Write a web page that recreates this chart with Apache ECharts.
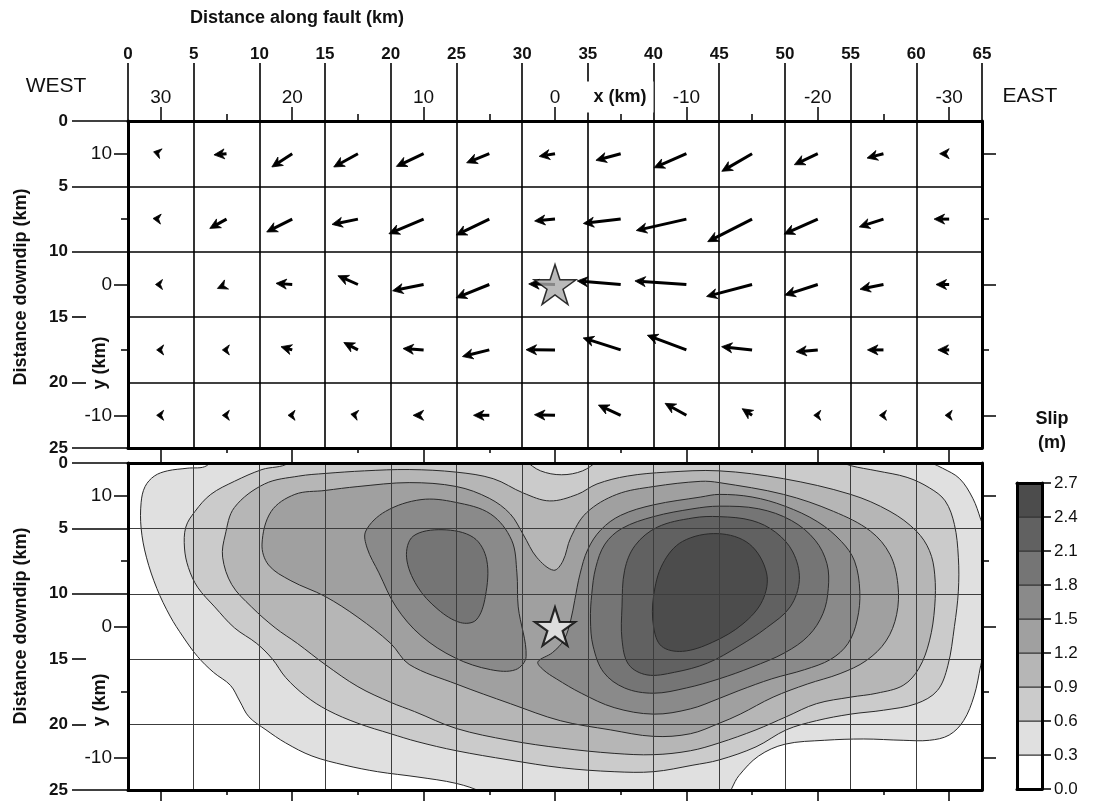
<!DOCTYPE html>
<html><head><meta charset="utf-8">
<script src="https://cdn.jsdelivr.net/npm/echarts@6/dist/echarts.min.js"></script>
<style>html,body{margin:0;padding:0;background:#fff}#c{width:1097px;height:801px}</style>
</head><body><div id="c"></div>
<script>
// ---------------- data ----------------
const colCenters = [2.5,7.5,12.5,17.5,22.5,27.5,32.5,37.5,42.5,47.5,52.5,57.5,62.5];
const rowCenters = [2.5,7.5,12.5,17.5,22.5];
// slip components (m): strike (negative = toward WEST), dip (positive = downdip)
const slipStrike = [
 [-0.38,-0.66,-1.07,-1.27,-1.43,-1.19,-0.83,-1.30,-1.70,-1.59,-1.23,-0.86,-0.50],
 [-0.41,-0.88,-1.34,-1.36,-1.82,-1.74,-1.07,-1.96,-2.63,-2.33,-1.77,-1.27,-0.79],
 [-0.28,-0.48,-0.85,-1.05,-1.63,-1.74,-1.38,-2.28,-2.70,-2.39,-1.73,-1.23,-0.69],
 [-0.22,-0.22,-0.59,-0.74,-1.08,-1.41,-1.52,-1.97,-2.05,-1.60,-1.14,-0.84,-0.59],
 [-0.22,-0.22,-0.22,-0.37,-0.55,-0.83,-1.08,-1.17,-1.12,-0.52,-0.21,-0.21,-0.21]
];
const slipDip = [
 [-0.10,0.06,0.70,0.70,0.67,0.48,0.14,0.35,0.74,0.93,0.58,0.23,0],
 [-0.03,0.49,0.68,0.28,0.77,0.84,0.10,0.23,0.60,1.19,0.79,0.41,0],
 [0,0.21,-0.06,-0.46,0.33,0.70,-0.03,-0.19,-0.19,0.63,0.56,0.25,0],
 [0,0,-0.17,-0.39,-0.07,0.35,-0.01,-0.63,-0.77,-0.17,0.10,0,0],
 [0,0,0,-0.06,0,0,-0.03,-0.54,-0.63,-0.35,0,0,0]
];
const hypocenter = [32.5, 12.5];
const depthLongTicks = [0,5,10,25];
const depthShortTicks = [15,20];
const localXMajor = [30,20,10,0,-10,-20,-30];
const localXMinor = [25,15,5,-5,-15,-25];
const localYMajor = [10,0,-10];
const localYMinor = [5,-5];
const slipLevels = [0,0.3,0.6,0.9,1.2,1.5,1.8,2.1,2.4,2.7];
// slip contours (distance along fault km, depth km)
const contour03 = [[7.5,-1.5],[6.0,0.2],[4.5,0.4],[3.0,0.6],[2.0,1.0],[1.3,1.8],[1.0,3.0],[1.0,5.0],[1.4,7.2],[2.2,9.6],[3.2,11.7],[4.2,13.3],[5.3,14.8],[6.5,16.0],[7.8,17.0],[8.5,18.2],[9.2,19.4],[10.5,20.4],[12.0,21.4],[14.0,22.4],[16.5,23.1],[19.0,23.6],[22.0,24.0],[25.0,24.5],[27.0,25.2],[29.0,26.5],[40.0,26.5],[45.3,25.6],[46.5,23.9],[48.0,22.4],[50.0,21.5],[53.0,21.2],[56.0,21.1],[59.0,21.2],[61.0,21.2],[62.5,20.8],[63.6,19.7],[64.4,17.8],[64.9,15.5],[65.4,13.0],[65.4,6.0],[64.9,4.3],[64.3,2.7],[63.3,1.2],[62.0,0.4],[60.5,-0.3],[58.0,-1.5]];
const contour06 = [[12.8,-1.5],[12.2,0.0],[10.2,0.5],[8.1,1.4],[6.3,2.4],[5.1,3.7],[4.4,4.9],[4.3,6.5],[4.6,8.0],[5.3,9.5],[6.6,11.0],[8.1,12.6],[9.8,13.8],[11.0,15.0],[12.0,16.4],[13.5,17.8],[15.2,18.9],[17.5,19.9],[20.0,20.7],[22.0,21.3],[25.0,22.0],[29.0,22.7],[33.0,23.3],[37.0,23.6],[40.0,23.6],[43.0,23.1],[45.0,22.7],[47.8,21.7],[50.1,20.4],[52.4,19.7],[55.0,19.2],[57.5,18.9],[60.0,18.4],[61.6,17.4],[62.4,15.5],[62.9,12.5],[63.2,9.8],[63.2,7.2],[62.9,4.7],[62.2,2.9],[61.0,1.9],[59.3,1.1],[57.0,0.6],[55.0,0.2],[53.7,-0.3],[50.0,-1.5],[37.5,-1.5],[35.8,-0.2],[34.6,0.6],[33.0,0.9],[31.4,0.6],[30.2,-0.2],[28.5,-1.5]];
const contour09 = [[8.1,3.4],[10.4,1.6],[13.0,1.0],[15.0,0.8],[18.0,0.6],[21.4,0.5],[25.0,0.7],[27.8,1.2],[30.1,2.3],[32.1,2.9],[34.2,2.4],[35.7,1.6],[38.0,1.0],[41.0,0.7],[45.0,0.6],[49.9,1.2],[55.0,2.4],[58.0,3.7],[60.0,5.2],[61.0,6.7],[61.4,8.5],[61.4,11.0],[61.0,13.6],[60.2,15.7],[59.0,17.0],[57.0,17.6],[55.0,17.9],[52.4,18.4],[50.1,19.4],[47.8,20.4],[45.0,21.4],[42.8,22.0],[40.0,22.3],[37.0,22.2],[33.0,21.8],[29.0,21.2],[25.0,20.3],[21.8,19.0],[20.0,18.3],[17.5,17.1],[15.0,15.4],[12.9,13.8],[11.2,12.6],[9.4,11.0],[7.9,9.3],[7.2,7.2],[7.4,5.5]];
const contour12 = [[10.2,6.2],[10.9,3.7],[12.7,2.4],[15.0,2.1],[17.5,1.8],[21.4,1.5],[25.0,1.8],[27.5,2.7],[29.1,3.9],[30.1,5.5],[31.1,7.2],[32.4,8.2],[33.1,7.5],[33.7,5.7],[34.9,3.8],[37.2,2.4],[40.0,1.8],[43.6,1.4],[45.0,1.5],[49.9,2.4],[53.7,3.7],[56.5,5.2],[58.0,7.0],[58.6,9.3],[58.5,11.6],[57.7,13.6],[56.2,15.1],[54.2,16.1],[51.7,16.9],[49.1,17.9],[46.6,19.2],[45.0,19.9],[42.8,20.7],[40.0,20.9],[36.7,20.4],[32.9,19.7],[29.1,18.4],[25.0,16.9],[21.4,15.4],[20.0,13.8],[17.5,11.8],[15.0,10.2],[12.4,9.0],[10.7,7.8]];
const contour15West = [[18.1,5.2],[19.6,3.7],[22.3,2.8],[24.9,3.0],[27.6,3.9],[29.2,5.9],[29.6,8.4],[29.7,11.0],[30.3,14.8],[29.5,15.8],[27.6,15.8],[24.9,14.9],[22.3,13.2],[20.4,11.0],[19.1,8.4],[18.2,6.5]];
const contour15East = [[31.2,15.2],[32.3,14.5],[33.2,13.5],[33.7,12.0],[34.0,10.5],[34.4,8.5],[35.0,6.6],[36.0,5.1],[37.5,4.0],[40.0,3.2],[43.6,2.6],[45.0,2.4],[47.5,2.6],[50.0,3.3],[52.5,4.5],[54.3,6.0],[55.3,7.5],[55.7,9.8],[55.5,12.0],[54.8,13.8],[53.5,15.0],[51.5,15.8],[49.0,16.5],[46.5,17.4],[45.0,18.0],[42.8,18.8],[40.0,19.2],[37.0,18.7],[34.5,17.6],[32.6,16.5],[31.6,15.8]];
const contour18West = [[21.2,7.2],[21.7,5.6],[23.9,5.1],[26.3,5.7],[27.3,7.4],[27.2,10.2],[26.5,12.0],[25.3,12.2],[23.6,11.2],[22.0,9.4]];
const contour18East = [[35.2,12.0],[35.3,10.0],[35.6,8.0],[36.3,6.2],[37.6,5.0],[40.0,4.1],[43.0,3.5],[45.0,3.3],[48.0,3.5],[50.5,4.4],[52.3,5.9],[53.2,7.7],[53.3,9.6],[52.9,11.5],[51.8,13.2],[50.0,14.5],[47.5,15.6],[45.0,16.5],[42.5,17.2],[40.0,17.6],[37.8,17.2],[36.2,16.0],[35.4,14.0]];
const contour21East = [[37.6,11.0],[37.8,8.2],[38.6,6.3],[40.3,4.9],[43.0,4.2],[45.0,4.1],[47.5,4.4],[49.3,5.3],[50.6,6.8],[51.1,8.9],[50.4,11.0],[48.6,12.6],[46.5,14.0],[44.1,15.3],[41.6,16.0],[39.5,16.2],[38.1,15.4],[37.6,13.5]];
const contour24East = [[40.0,10.2],[40.7,7.7],[42.2,6.0],[44.9,5.4],[47.3,6.2],[48.6,8.4],[48.3,10.5],[46.8,12.3],[44.5,13.7],[42.2,14.4],[40.6,14.0],[40.0,12.5]];

// ---------------- styling ----------------
const bandColors = ['#ffffff','#e0e0e0','#cbcbcb','#b6b6b6','#a0a0a0','#8a8a8a','#757575','#616161','#4c4c4c'];
const FONT = "'Liberation Sans', Arial, Helvetica, sans-serif";
const ARROW_KM_PER_M = 1.45;

const contourList = [
  {level:0.3, pts:contour03},{level:0.6, pts:contour06},{level:0.9, pts:contour09},{level:1.2, pts:contour12},
  {level:1.5, pts:contour15West},{level:1.5, pts:contour15East},
  {level:1.8, pts:contour18West},{level:1.8, pts:contour18East},
  {level:2.1, pts:contour21East},{level:2.4, pts:contour24East}
];
function bandIndex(level){ return Math.round(level/0.3); }

const arrowData = [];
rowCenters.forEach((z, r) => colCenters.forEach((d, c) => arrowData.push([d, z, slipStrike[r][c], slipDip[r][c]])));

const bands = [];
for (let i = 0; i < slipLevels.length-1; i++) bands.push([slipLevels[i], slipLevels[i+1], i]);

const STAR = 'path://M50,0 L61.2,34.5 L97.6,34.5 L68.2,55.9 L79.4,90.5 L50,69.1 L20.6,90.5 L31.8,55.9 L2.4,34.5 L38.8,34.5 Z';

function lineSt(w, c){ return {color: c||'#000', width: w}; }
function axLine(show, w){ return {show:show, onZero:false, lineStyle:lineSt(w||3)}; }
function noLabel(){ return {show:false}; }

const xAxes = [
  // 0: top panel distance along fault
  {gridIndex:0, type:'value', position:'top', min:0, max:65, interval:5,
   axisLine:axLine(true), axisTick:{show:true, length:58, lineStyle:lineSt(1.6)},
   axisLabel:{show:true, margin:58, fontSize:17, fontWeight:'bold', color:'#111', fontFamily:FONT},
   splitLine:{show:true, lineStyle:lineSt(1.6)}},
  // 1: local x major (top)
  {gridIndex:0, type:'value', position:'top', min:-32.5, max:32.5, inverse:true,
   axisLine:axLine(false), axisTick:{show:true, length:14, customValues:localXMajor, lineStyle:lineSt(1.5)},
   axisLabel:{show:true, customValues:localXMajor, margin:14, fontSize:19, color:'#111', fontFamily:FONT}, splitLine:{show:false}},
  // 2: local x minor (top)
  {gridIndex:0, type:'value', position:'top', min:-32.5, max:32.5, inverse:true,
   axisLine:axLine(false), axisTick:{show:true, length:7, customValues:localXMinor, lineStyle:lineSt(1.5)},
   axisLabel:noLabel(), splitLine:{show:false}},
  // 3: top panel bottom, major local ticks
  {gridIndex:0, type:'value', position:'bottom', min:-32.5, max:32.5, inverse:true,
   axisLine:axLine(true), axisTick:{show:true, length:15, customValues:localXMajor, lineStyle:lineSt(1.5)},
   axisLabel:noLabel(), splitLine:{show:false}},
  // 4: top panel bottom, minor
  {gridIndex:0, type:'value', position:'bottom', min:-32.5, max:32.5, inverse:true,
   axisLine:axLine(false), axisTick:{show:true, length:5, customValues:localXMinor, lineStyle:lineSt(1.5)},
   axisLabel:noLabel(), splitLine:{show:false}},
  // 5: bottom panel distance (top border + grid lines)
  {gridIndex:1, type:'value', position:'top', min:0, max:65, interval:5, z:5,
   axisLine:axLine(true), axisTick:{show:false}, axisLabel:noLabel(),
   splitLine:{show:true, lineStyle:lineSt(1, '#3c3c3c')}},
  // 6: bottom panel bottom, major local ticks
  {gridIndex:1, type:'value', position:'bottom', min:-32.5, max:32.5, inverse:true, z:5,
   axisLine:axLine(true), axisTick:{show:true, length:11, customValues:localXMajor, lineStyle:lineSt(1.5)},
   axisLabel:noLabel(), splitLine:{show:false}},
  // 7: bottom panel bottom, minor
  {gridIndex:1, type:'value', position:'bottom', min:-32.5, max:32.5, inverse:true, z:5,
   axisLine:axLine(false), axisTick:{show:true, length:5, customValues:localXMinor, lineStyle:lineSt(1.5)},
   axisLabel:noLabel(), splitLine:{show:false}},
  // 8: colorbar bottom
  {gridIndex:2, type:'value', position:'bottom', min:0, max:1, z:5,
   axisLine:axLine(true), axisTick:{show:false}, axisLabel:noLabel(), splitLine:{show:false}},
  // 9: colorbar top
  {gridIndex:2, type:'value', position:'top', min:0, max:1, z:5,
   axisLine:axLine(true), axisTick:{show:false}, axisLabel:noLabel(), splitLine:{show:false}}
];

function panelYAxes(g, gridColor, gridWidth, z){
  return [
    {gridIndex:g, type:'value', position:'left', min:0, max:25, interval:5, inverse:true, z:z,
     axisLine:axLine(true), axisTick:{show:false},
     axisLabel:{show:true, margin:60, fontSize:17, fontWeight:'bold', color:'#111', fontFamily:FONT},
     splitLine:{show:true, lineStyle:lineSt(gridWidth, gridColor)}},
    {gridIndex:g, type:'value', position:'left', min:0, max:25, inverse:true, z:z,
     axisLine:axLine(false), axisTick:{show:true, length:56, customValues:depthLongTicks, lineStyle:lineSt(1.6)},
     axisLabel:noLabel(), splitLine:{show:false}},
    {gridIndex:g, type:'value', position:'left', offset:42, min:0, max:25, inverse:true, z:z,
     axisLine:axLine(false), axisTick:{show:true, length:14, customValues:depthShortTicks, lineStyle:lineSt(1.6)},
     axisLabel:noLabel(), splitLine:{show:false}},
    {gridIndex:g, type:'value', position:'left', min:-12.5, max:12.5, z:z,
     axisLine:axLine(false), axisTick:{show:true, length:14, customValues:localYMajor, lineStyle:lineSt(1.5)},
     axisLabel:{show:true, customValues:localYMajor, margin:16, fontSize:19, color:'#111', fontFamily:FONT}, splitLine:{show:false}},
    {gridIndex:g, type:'value', position:'left', min:-12.5, max:12.5, z:z,
     axisLine:axLine(false), axisTick:{show:true, length:7, customValues:localYMinor, lineStyle:lineSt(1.5)},
     axisLabel:noLabel(), splitLine:{show:false}},
    {gridIndex:g, type:'value', position:'right', min:-12.5, max:12.5, z:z,
     axisLine:axLine(true), axisTick:{show:true, length:14, customValues:localYMajor, lineStyle:lineSt(1.5)},
     axisLabel:noLabel(), splitLine:{show:false}},
    {gridIndex:g, type:'value', position:'right', min:-12.5, max:12.5, z:z,
     axisLine:axLine(false), axisTick:{show:true, length:7, customValues:localYMinor, lineStyle:lineSt(1.5)},
     axisLabel:noLabel(), splitLine:{show:false}}
  ];
}
const yAxes = [].concat(
  panelYAxes(0, '#000', 1.6, 0),
  panelYAxes(1, '#3c3c3c', 1, 5),
  [
    {gridIndex:2, type:'value', position:'left', min:0, max:2.7, z:5,
     axisLine:axLine(true), axisTick:{show:false}, axisLabel:noLabel(), splitLine:{show:false}},
    {gridIndex:2, type:'value', position:'right', min:0, max:2.7, interval:0.3, z:5,
     axisLine:axLine(true), axisTick:{show:true, length:9, lineStyle:lineSt(1.5)},
     axisLabel:{show:true, margin:12, fontSize:17, color:'#111', fontFamily:FONT, formatter:v => v.toFixed(1)},
     splitLine:{show:false}}
  ]
);

function txt(text, x, y, size, bold, extra){
  const st = Object.assign({text:text, fill:'#111', font:(bold?'bold ':'')+size+'px '+FONT,
    textAlign:'center', textVerticalAlign:'middle', align:'center', verticalAlign:'middle'}, extra && extra.style || {});
  const el = {type:'text', x:x, y:y, z:20, style:st};
  if (extra && extra.rotation) el.rotation = extra.rotation;
  return el;
}

const option = {
  animation:false,
  backgroundColor:'#fff',
  grid:[
    {left:128, top:121, width:854, height:327},
    {left:128, top:463, width:854, height:327},
    {left:1017, top:483, width:25, height:306}
  ],
  xAxis:xAxes,
  yAxis:yAxes,
  graphic:{elements:[
    txt('Distance along fault (km)', 297, 18, 18, true),
    txt('WEST', 56, 86, 21, false),
    txt('EAST', 1030, 96, 21, false),
    txt('x (km)', 620, 97, 18, true, {style:{backgroundColor:'#fff', padding:[10,7,3,7]}}),
    txt('Distance downdip (km)', 21, 287, 18, true, {rotation:Math.PI/2}),
    txt('Distance downdip (km)', 21, 626, 18, true, {rotation:Math.PI/2}),
    txt('y (km)', 100, 363, 18, true, {rotation:Math.PI/2}),
    txt('y (km)', 100, 700, 18, true, {rotation:Math.PI/2}),
    txt('Slip', 1052, 419, 18, true),
    txt('(m)', 1052, 443, 18, true)
  ]},
  series:[
    { // slip contours
      type:'custom', xAxisIndex:5, yAxisIndex:7, z:2, clip:true,
      data:contourList.map((c, i) => [i]),
      renderItem:function(params, api){
        const c = contourList[params.dataIndex];
        const pts = c.pts.map(p => api.coord(p));
        const cs = params.coordSys;
        return {type:'group',
          clipPath:{type:'rect', shape:{x:cs.x, y:cs.y, width:cs.width, height:cs.height}},
          children:[{type:'polygon', shape:{points:pts, smooth:0.35},
            style:{fill:bandColors[bandIndex(c.level)], stroke:'#2a2a2a', lineWidth:1}}]};
      }
    },
    { // slip vectors
      type:'custom', xAxisIndex:0, yAxisIndex:0, z:3,
      dimensions:['d','z','us','ud'], encode:{x:0, y:1},
      data:arrowData,
      renderItem:function(params, api){
        const d = api.value(0), z = api.value(1), us = api.value(2), ud = api.value(3);
        const p0 = api.coord([d, z]);
        const p1 = api.coord([d + us*ARROW_KM_PER_M, z + ud*ARROW_KM_PER_M]);
        const dx = p1[0]-p0[0], dy = p1[1]-p0[1];
        const len = Math.hypot(dx, dy) || 1;
        const ux = dx/len, uy = dy/len, nx = -uy, ny = ux;
        const hl = Math.max(7, Math.min(10.5, len)), hw = 5;
        const bx = p1[0]-ux*hl, by = p1[1]-uy*hl;
        const notch = [p1[0]-ux*hl*0.7, p1[1]-uy*hl*0.7];
        const ch = [];
        if (len > hl) ch.push({type:'line', shape:{x1:p0[0], y1:p0[1], x2:notch[0], y2:notch[1]},
          style:{stroke:'#000', lineWidth:3}});
        ch.push({type:'polygon', shape:{points:[p1, [bx+nx*hw, by+ny*hw], notch, [bx-nx*hw, by-ny*hw]]},
          style:{fill:'#000', stroke:'#000', lineWidth:0.8}});
        return {type:'group', children:ch};
      }
    },
    { // hypocenter, top
      type:'scatter', xAxisIndex:0, yAxisIndex:0, z:10, data:[hypocenter],
      symbol:STAR, symbolSize:[42,40], symbolKeepAspect:false,
      itemStyle:{color:'#a9a9a9', borderColor:'#000', borderWidth:1.5}, silent:true
    },
    { // hypocenter, bottom
      type:'scatter', xAxisIndex:5, yAxisIndex:7, z:10, data:[hypocenter],
      symbol:STAR, symbolSize:[40,38], symbolKeepAspect:false,
      itemStyle:{color:'#ececec', borderColor:'#000', borderWidth:2.2}, silent:true
    },
    { // colour bar
      type:'custom', xAxisIndex:8, yAxisIndex:14, z:2,
      data:bands,
      renderItem:function(params, api){
        const lo = api.value(0), hi = api.value(1), idx = api.value(2);
        const a = api.coord([0, lo]), b = api.coord([1, hi]);
        return {type:'rect', shape:{x:a[0], y:b[1], width:b[0]-a[0], height:a[1]-b[1]},
          style:{fill:bandColors[idx], stroke:'#333', lineWidth:1}};
      }
    }
  ]
};
const chart = echarts.init(document.getElementById('c'), null, {renderer:'canvas'});
chart.setOption(option);
</script></body></html>
